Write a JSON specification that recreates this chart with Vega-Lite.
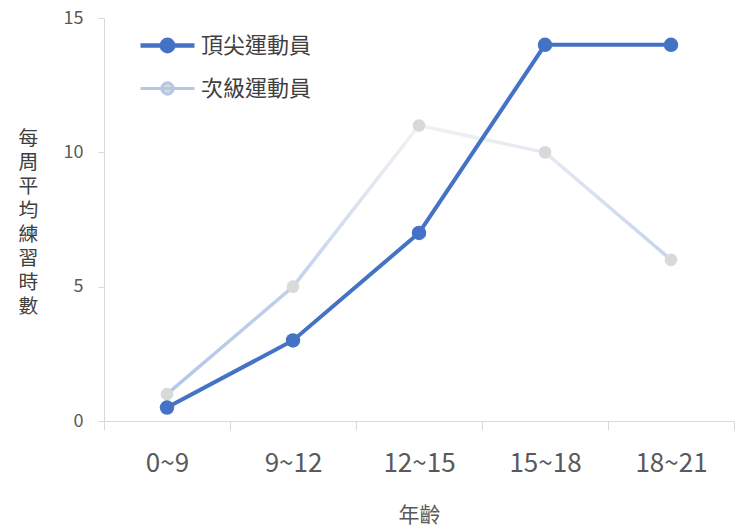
{
  "$schema": "https://vega.github.io/schema/vega-lite/v6.json",
  "width": 630,
  "height": 403,
  "autosize": {"type": "none"},
  "padding": {"left": 104, "top": 18, "right": 6, "bottom": 110},
  "background": "white",
  "config": {"view": {"stroke": null}, "font": "Noto Sans CJK TC"},
  "data": {
    "values": [
      {"age": "0~9", "series": "頂尖運動員", "hours": 0.5},
      {"age": "9~12", "series": "頂尖運動員", "hours": 3},
      {"age": "12~15", "series": "頂尖運動員", "hours": 7},
      {"age": "15~18", "series": "頂尖運動員", "hours": 14},
      {"age": "18~21", "series": "頂尖運動員", "hours": 14},
      {"age": "0~9", "series": "次級運動員", "hours": 1},
      {"age": "9~12", "series": "次級運動員", "hours": 5},
      {"age": "12~15", "series": "次級運動員", "hours": 11},
      {"age": "15~18", "series": "次級運動員", "hours": 10},
      {"age": "18~21", "series": "次級運動員", "hours": 6}
    ]
  },
  "encoding": {
    "x": {
      "field": "age",
      "type": "ordinal",
      "sort": ["0~9", "9~12", "12~15", "15~18", "18~21"],
      "scale": {"type": "band", "paddingInner": 0, "paddingOuter": 0},
      "axis": {
        "title": "年齡",
        "titleFontSize": 21,
        "titleFontWeight": "normal",
        "titleColor": "#595959",
        "titlePadding": 28,
        "labelFontSize": 26,
        "labelColor": "#595959",
        "labelPadding": 20,
        "labelAngle": 0,
        "tickBand": "extent",
        "tickSize": 9,
        "tickColor": "#d9d9d9",
        "domainColor": "#d9d9d9",
        "grid": false
      }
    },
    "y": {
      "field": "hours",
      "type": "quantitative",
      "scale": {"domain": [0, 15]},
      "axis": {
        "title": ["每", "周", "平", "均", "練", "習", "時", "數"],
        "titleAngle": 0,
        "titleX": -76,
        "titleY": 120,
        "titleAlign": "center",
        "titleBaseline": "middle",
        "titleFontSize": 19.8,
        "titleLineHeight": 24,
        "titleFontWeight": "normal",
        "titleColor": "#404040",
        "values": [0, 5, 10, 15],
        "labelFontSize": 18,
        "labelColor": "#595959",
        "labelPadding": 15,
        "tickSize": 6,
        "tickColor": "#d9d9d9",
        "domainColor": "#d9d9d9",
        "grid": false
      }
    }
  },
  "layer": [
    {
      "transform": [{"filter": "datum.series === '次級運動員'"}],
      "mark": {
        "type": "line",
        "strokeWidth": 3.5,
        "stroke": {
          "gradient": "linear",
          "x1": 0, "x2": 1, "y1": 0, "y2": 0,
          "stops": [
            {"offset": 0, "color": "#b4c7e7"},
            {"offset": 0.25, "color": "#c2d1eb"},
            {"offset": 0.5, "color": "#f2f2f4"},
            {"offset": 0.75, "color": "#e6e9f3"},
            {"offset": 1, "color": "#c5d3ec"}
          ]
        }
      }
    },
    {
      "transform": [{"filter": "datum.series === '次級運動員'"}],
      "mark": {"type": "point", "filled": true, "color": "#d9d9d9", "size": 160, "opacity": 1}
    },
    {
      "transform": [{"filter": "datum.series === '頂尖運動員'"}],
      "mark": {"type": "line", "strokeWidth": 4},
      "encoding": {
        "color": {
          "field": "series",
          "type": "nominal",
          "scale": {"domain": ["頂尖運動員", "次級運動員"], "range": ["#4472c4", "#b4c7e7"]},
          "legend": {
            "orient": "none",
            "legendX": 52.5,
            "legendY": 16.5,
            "padding": 0,
            "title": null,
            "symbolType": "M-2,0L2,0M-0.42,0A0.42,0.42 0 1,1 0.42,0A0.42,0.42 0 1,1 -0.42,0Z",
            "symbolSize": 729,
            "labelFontSize": 22,
            "labelColor": "#404040",
            "labelOffset": 22.5,
            "rowPadding": 16,
            "encode": {
              "symbols": {
                "update": {
                  "fill": {"signal": "datum.value === '頂尖運動員' ? '#4472c4' : '#d9d9d9'"},
                  "strokeWidth": {"signal": "datum.value === '頂尖運動員' ? 4.5 : 3"},
                  "opacity": {"value": 1}
                }
              }
            }
          }
        }
      }
    },
    {
      "transform": [{"filter": "datum.series === '頂尖運動員'"}],
      "mark": {"type": "point", "filled": true, "color": "#4472c4", "size": 210, "opacity": 1}
    }
  ]
}
